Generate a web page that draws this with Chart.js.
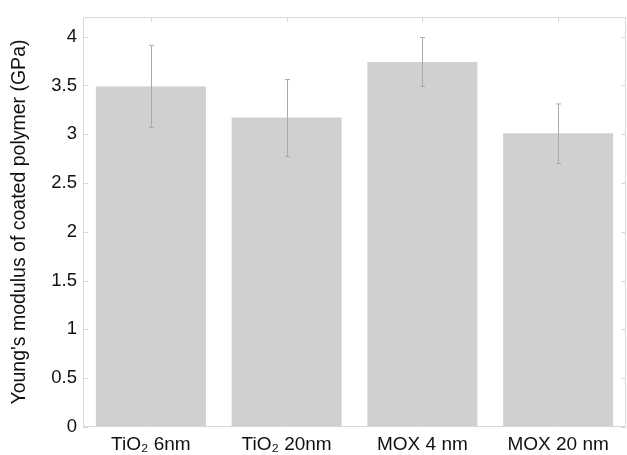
<!DOCTYPE html>
<html><head><meta charset="utf-8">
<script src="https://cdn.jsdelivr.net/npm/chart.js@4/dist/chart.umd.min.js"></script>
<style>html,body{margin:0;padding:0;background:#fff}#wrap{width:627px;height:455px}</style>
</head><body><div id="wrap"><canvas id="c"></canvas></div>
<script>
const categories = ["TiO\u2082 6nm", "TiO\u2082 20nm", "MOX 4 nm", "MOX 20 nm"];
const modulus = [3.49, 3.17, 3.74, 3.01];
const errLow = [3.07, 2.77, 3.49, 2.70];
const errHigh = [3.91, 3.56, 3.99, 3.31];
const yTicks = [0, 0.5, 1, 1.5, 2, 2.5, 3, 3.5, 4];

const frame = {
  id: 'frame',
  afterDatasetsDraw(chart) {
    const {ctx, chartArea: a, scales: {x, y}} = chart;
    ctx.save();
    // error bars
    ctx.strokeStyle = '#a9a9a9';
    ctx.lineWidth = 1;
    modulus.forEach((v, i) => {
      const px = Math.round(x.getPixelForValue(i)) + 0.5;
      const t = y.getPixelForValue(errHigh[i]);
      const b = y.getPixelForValue(errLow[i]);
      ctx.beginPath();
      ctx.moveTo(px, t); ctx.lineTo(px, b);
      ctx.moveTo(px - 2.5, t); ctx.lineTo(px + 2.5, t);
      ctx.moveTo(px - 2.5, b); ctx.lineTo(px + 2.5, b);
      ctx.stroke();
    });
    // frame
    ctx.strokeStyle = '#d8d8d8';
    ctx.strokeRect(a.left + 0.5, a.top + 0.5, a.right - a.left - 1, a.bottom - a.top - 1);
    ctx.beginPath();
    categories.forEach((c, i) => {
      const px = Math.round(x.getPixelForValue(i)) + 0.5;
      ctx.moveTo(px, a.top); ctx.lineTo(px, a.top + 5);
      ctx.moveTo(px, a.bottom); ctx.lineTo(px, a.bottom - 5);
    });
    yTicks.forEach(v => {
      const py = Math.round(y.getPixelForValue(v)) + 0.5;
      ctx.moveTo(a.left, py); ctx.lineTo(a.left + 5, py);
      ctx.moveTo(a.right, py); ctx.lineTo(a.right - 5, py);
    });
    ctx.stroke();
    ctx.restore();
  }
};

new Chart(document.getElementById('c'), {
  type: 'bar',
  data: {
    labels: categories,
    datasets: [{
      data: modulus,
      backgroundColor: '#cfd0cf',
      borderWidth: 0,
      categoryPercentage: 0.81,
      barPercentage: 1
    }]
  },
  options: {
    responsive: true,
    maintainAspectRatio: false,
    animation: false,
    layout: {padding: {top: 12, right: 1, left: 0, bottom: 0}},
    plugins: {legend: {display: false}, tooltip: {enabled: false}},
    scales: {
      x: {
        grid: {display: false, drawTicks: false},
        border: {display: false},
        ticks: {color: '#111', font: {family: 'Liberation Sans, Arial', size: 19}, padding: 6, maxRotation: 0},
        afterFit(s) { s.height = 28; }
      },
      y: {
        min: 0, max: 4.2,
        afterBuildTicks(s) { s.ticks = yTicks.map(v => ({value: v})); },
        grid: {display: false, drawTicks: false},
        border: {display: false},
        ticks: {color: '#111', font: {family: 'Liberation Sans, Arial', size: 18.5}, padding: 6,
          callback: v => String(v)},
        title: {display: true, text: "Young's modulus of coated polymer (GPa)", color: '#111',
          font: {family: 'Liberation Sans, Arial', size: 19.5}, padding: {top: 8, bottom: 0}},
        afterFit(s) { s.width = 83; }
      }
    }
  },
  plugins: [frame]
});
</script>
</body></html>
